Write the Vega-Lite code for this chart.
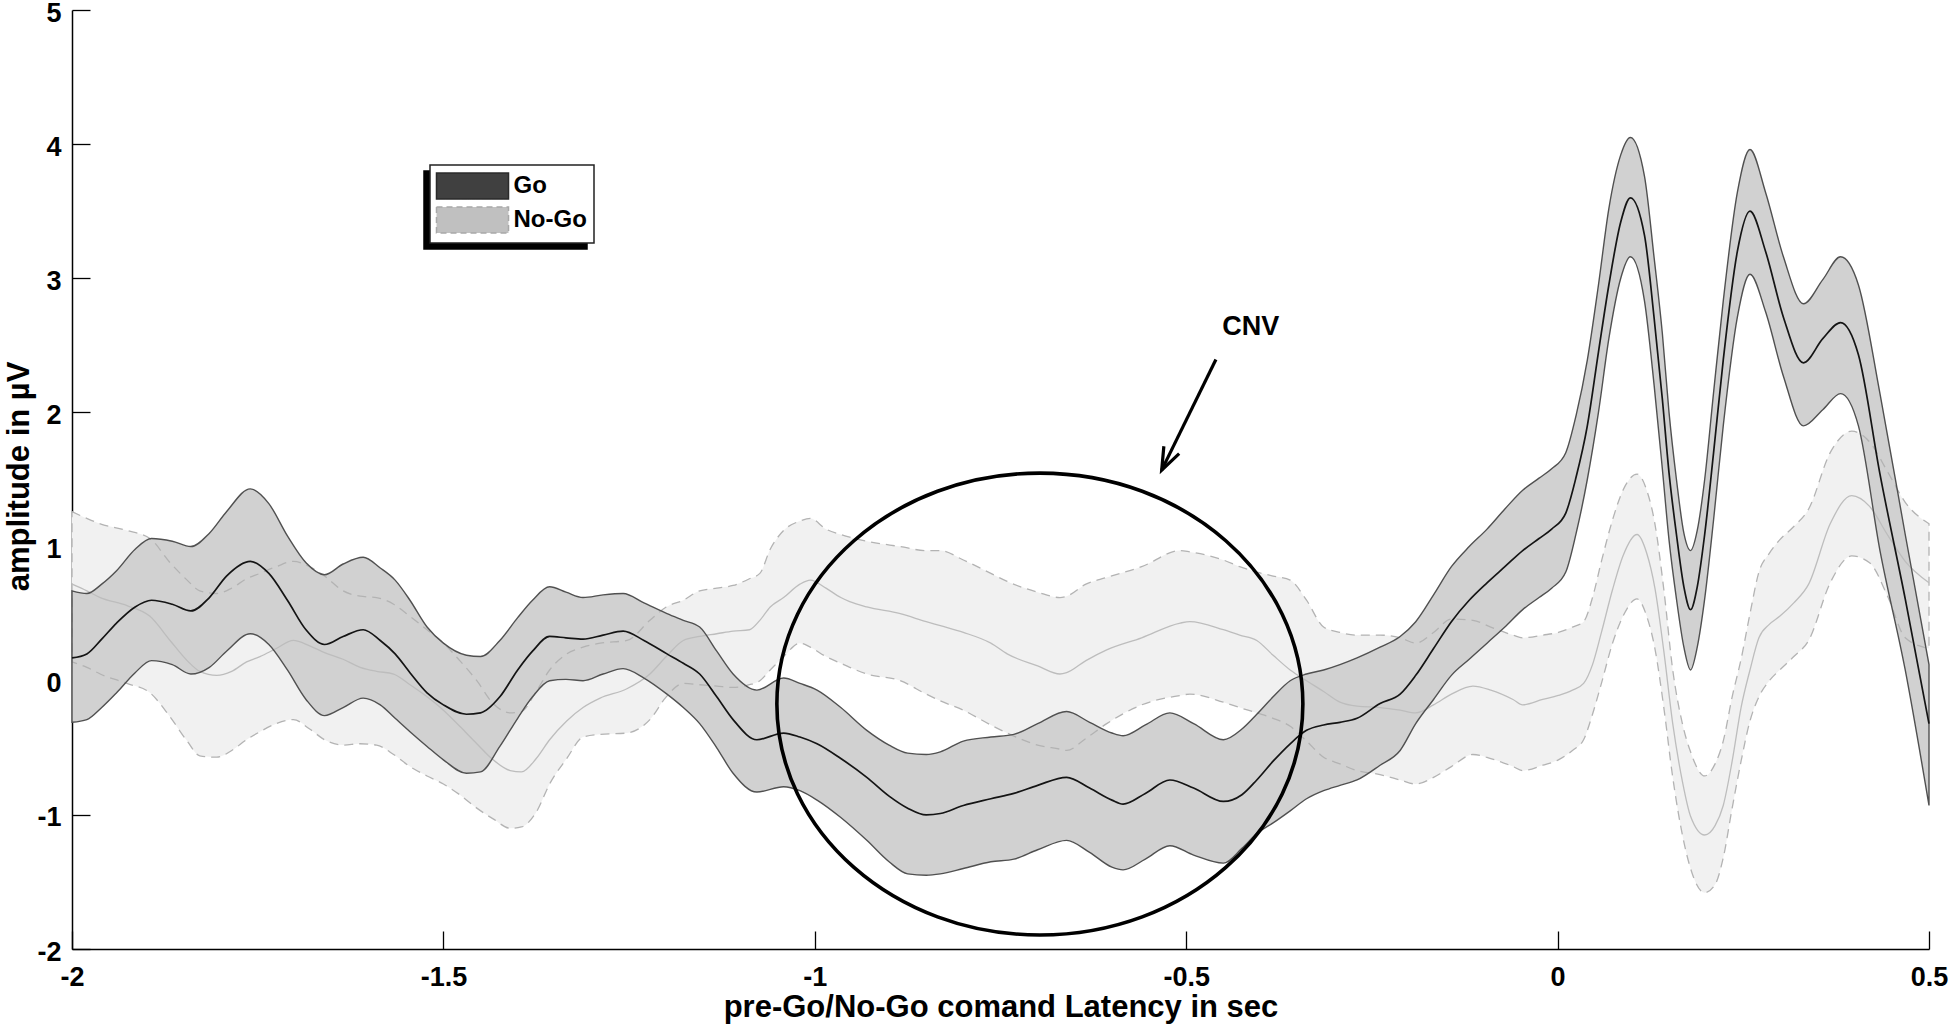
{
  "$schema": "https://vega.github.io/schema/vega-lite/v6.json",
  "width": 1857,
  "height": 939,
  "autosize": {"type": "none"},
  "padding": {"left": 72, "top": 10, "right": 21, "bottom": 81},
  "background": "white",
  "config": {
    "view": {"stroke": null},
    "font": "Liberation Sans",
    "legend": {"strokeWidth": 1.5}
  },
  "datasets": {
    "go": [
      {"t":-2.000,"lo":-0.31,"m":0.17,"hi":0.67},
      {"t":-1.980,"lo":-0.29,"m":0.20,"hi":0.65},
      {"t":-1.960,"lo":-0.20,"m":0.31,"hi":0.72},
      {"t":-1.940,"lo":-0.09,"m":0.43,"hi":0.82},
      {"t":-1.915,"lo":0.06,"m":0.55,"hi":0.98},
      {"t":-1.893,"lo":0.15,"m":0.60,"hi":1.06},
      {"t":-1.865,"lo":0.12,"m":0.57,"hi":1.04},
      {"t":-1.840,"lo":0.05,"m":0.52,"hi":1.00},
      {"t":-1.815,"lo":0.10,"m":0.62,"hi":1.10},
      {"t":-1.792,"lo":0.22,"m":0.78,"hi":1.26},
      {"t":-1.760,"lo":0.35,"m":0.89,"hi":1.43},
      {"t":-1.735,"lo":0.27,"m":0.80,"hi":1.32},
      {"t":-1.710,"lo":0.08,"m":0.60,"hi":1.08},
      {"t":-1.685,"lo":-0.14,"m":0.38,"hi":0.88},
      {"t":-1.660,"lo":-0.26,"m":0.27,"hi":0.79},
      {"t":-1.635,"lo":-0.20,"m":0.33,"hi":0.87},
      {"t":-1.608,"lo":-0.13,"m":0.38,"hi":0.92},
      {"t":-1.585,"lo":-0.18,"m":0.30,"hi":0.84},
      {"t":-1.565,"lo":-0.28,"m":0.20,"hi":0.75},
      {"t":-1.545,"lo":-0.38,"m":0.06,"hi":0.60},
      {"t":-1.522,"lo":-0.49,"m":-0.09,"hi":0.40},
      {"t":-1.500,"lo":-0.59,"m":-0.18,"hi":0.28},
      {"t":-1.469,"lo":-0.69,"m":-0.25,"hi":0.19},
      {"t":-1.450,"lo":-0.68,"m":-0.24,"hi":0.18},
      {"t":-1.424,"lo":-0.49,"m":-0.12,"hi":0.30},
      {"t":-1.400,"lo":-0.28,"m":0.08,"hi":0.47},
      {"t":-1.380,"lo":-0.12,"m":0.22,"hi":0.60},
      {"t":-1.357,"lo":0.00,"m":0.33,"hi":0.70},
      {"t":-1.335,"lo":0.01,"m":0.32,"hi":0.66},
      {"t":-1.312,"lo":0.00,"m":0.31,"hi":0.62},
      {"t":-1.285,"lo":0.05,"m":0.34,"hi":0.64},
      {"t":-1.258,"lo":0.09,"m":0.37,"hi":0.65},
      {"t":-1.230,"lo":0.02,"m":0.30,"hi":0.58},
      {"t":-1.199,"lo":-0.10,"m":0.20,"hi":0.50},
      {"t":-1.177,"lo":-0.20,"m":0.13,"hi":0.45},
      {"t":-1.155,"lo":-0.32,"m":0.05,"hi":0.40},
      {"t":-1.132,"lo":-0.50,"m":-0.12,"hi":0.22},
      {"t":-1.110,"lo":-0.69,"m":-0.29,"hi":0.05},
      {"t":-1.078,"lo":-0.83,"m":-0.44,"hi":-0.07},
      {"t":-1.042,"lo":-0.79,"m":-0.39,"hi":0.02},
      {"t":-1.020,"lo":-0.82,"m":-0.42,"hi":-0.02},
      {"t":-0.997,"lo":-0.89,"m":-0.47,"hi":-0.07},
      {"t":-0.965,"lo":-1.02,"m":-0.58,"hi":-0.20},
      {"t":-0.930,"lo":-1.19,"m":-0.72,"hi":-0.37},
      {"t":-0.900,"lo":-1.35,"m":-0.86,"hi":-0.48},
      {"t":-0.875,"lo":-1.44,"m":-0.95,"hi":-0.54},
      {"t":-0.850,"lo":-1.45,"m":-1.00,"hi":-0.55},
      {"t":-0.831,"lo":-1.44,"m":-0.99,"hi":-0.53},
      {"t":-0.800,"lo":-1.40,"m":-0.93,"hi":-0.45},
      {"t":-0.763,"lo":-1.35,"m":-0.88,"hi":-0.42},
      {"t":-0.732,"lo":-1.33,"m":-0.84,"hi":-0.40},
      {"t":-0.700,"lo":-1.26,"m":-0.78,"hi":-0.32},
      {"t":-0.661,"lo":-1.19,"m":-0.72,"hi":-0.23},
      {"t":-0.630,"lo":-1.28,"m":-0.80,"hi":-0.31},
      {"t":-0.600,"lo":-1.39,"m":-0.89,"hi":-0.39},
      {"t":-0.585,"lo":-1.41,"m":-0.92,"hi":-0.41},
      {"t":-0.555,"lo":-1.33,"m":-0.84,"hi":-0.33},
      {"t":-0.522,"lo":-1.23,"m":-0.74,"hi":-0.24},
      {"t":-0.490,"lo":-1.30,"m":-0.80,"hi":-0.32},
      {"t":-0.450,"lo":-1.36,"m":-0.90,"hi":-0.44},
      {"t":-0.425,"lo":-1.25,"m":-0.85,"hi":-0.36},
      {"t":-0.405,"lo":-1.14,"m":-0.74,"hi":-0.25},
      {"t":-0.383,"lo":-1.06,"m":-0.60,"hi":-0.12},
      {"t":-0.360,"lo":-0.97,"m":-0.47,"hi":0.00},
      {"t":-0.338,"lo":-0.88,"m":-0.37,"hi":0.05},
      {"t":-0.315,"lo":-0.82,"m":-0.33,"hi":0.08},
      {"t":-0.293,"lo":-0.78,"m":-0.31,"hi":0.12},
      {"t":-0.270,"lo":-0.74,"m":-0.28,"hi":0.17},
      {"t":-0.239,"lo":-0.63,"m":-0.17,"hi":0.25},
      {"t":-0.212,"lo":-0.52,"m":-0.10,"hi":0.33},
      {"t":-0.191,"lo":-0.32,"m":0.04,"hi":0.44},
      {"t":-0.167,"lo":-0.14,"m":0.24,"hi":0.64},
      {"t":-0.143,"lo":0.04,"m":0.44,"hi":0.85},
      {"t":-0.119,"lo":0.16,"m":0.60,"hi":1.00},
      {"t":-0.095,"lo":0.28,"m":0.73,"hi":1.13},
      {"t":-0.071,"lo":0.40,"m":0.85,"hi":1.28},
      {"t":-0.047,"lo":0.53,"m":0.97,"hi":1.42},
      {"t":-0.025,"lo":0.62,"m":1.06,"hi":1.51},
      {"t":-0.008,"lo":0.69,"m":1.13,"hi":1.58},
      {"t":0.011,"lo":0.81,"m":1.25,"hi":1.70},
      {"t":0.025,"lo":1.10,"m":1.52,"hi":1.98},
      {"t":0.040,"lo":1.50,"m":1.90,"hi":2.39},
      {"t":0.055,"lo":2.00,"m":2.45,"hi":2.95},
      {"t":0.069,"lo":2.55,"m":2.95,"hi":3.52},
      {"t":0.085,"lo":3.00,"m":3.42,"hi":3.92},
      {"t":0.098,"lo":3.16,"m":3.60,"hi":4.05},
      {"t":0.117,"lo":2.83,"m":3.32,"hi":3.76},
      {"t":0.130,"lo":2.20,"m":2.70,"hi":3.15},
      {"t":0.141,"lo":1.58,"m":2.10,"hi":2.59},
      {"t":0.150,"lo":1.05,"m":1.55,"hi":2.00},
      {"t":0.160,"lo":0.61,"m":1.09,"hi":1.50},
      {"t":0.170,"lo":0.25,"m":0.70,"hi":1.10},
      {"t":0.179,"lo":0.08,"m":0.53,"hi":0.97},
      {"t":0.188,"lo":0.25,"m":0.70,"hi":1.12},
      {"t":0.198,"lo":0.61,"m":1.09,"hi":1.50},
      {"t":0.210,"lo":1.20,"m":1.70,"hi":2.15},
      {"t":0.223,"lo":1.90,"m":2.39,"hi":2.83},
      {"t":0.242,"lo":2.71,"m":3.20,"hi":3.64},
      {"t":0.259,"lo":3.03,"m":3.50,"hi":3.96},
      {"t":0.280,"lo":2.75,"m":3.20,"hi":3.64},
      {"t":0.304,"lo":2.27,"m":2.71,"hi":3.16},
      {"t":0.331,"lo":1.90,"m":2.37,"hi":2.81},
      {"t":0.357,"lo":2.02,"m":2.55,"hi":2.99},
      {"t":0.381,"lo":2.14,"m":2.67,"hi":3.16},
      {"t":0.405,"lo":1.90,"m":2.43,"hi":2.95},
      {"t":0.434,"lo":0.97,"m":1.54,"hi":2.14},
      {"t":0.468,"lo":0.08,"m":0.61,"hi":1.09},
      {"t":0.500,"lo":-0.93,"m":-0.32,"hi":0.12}
    ],
    "nogo": [
      {"t":-2.000,"lo":0.14,"m":0.72,"hi":1.26},
      {"t":-1.980,"lo":0.10,"m":0.67,"hi":1.21},
      {"t":-1.962,"lo":0.05,"m":0.62,"hi":1.17},
      {"t":-1.926,"lo":-0.02,"m":0.56,"hi":1.12},
      {"t":-1.895,"lo":-0.09,"m":0.48,"hi":1.06},
      {"t":-1.868,"lo":-0.27,"m":0.30,"hi":0.88},
      {"t":-1.845,"lo":-0.45,"m":0.15,"hi":0.75},
      {"t":-1.828,"lo":-0.56,"m":0.07,"hi":0.67},
      {"t":-1.805,"lo":-0.57,"m":0.04,"hi":0.65},
      {"t":-1.785,"lo":-0.52,"m":0.07,"hi":0.69},
      {"t":-1.765,"lo":-0.44,"m":0.14,"hi":0.76},
      {"t":-1.747,"lo":-0.38,"m":0.18,"hi":0.80},
      {"t":-1.725,"lo":-0.32,"m":0.24,"hi":0.85},
      {"t":-1.702,"lo":-0.29,"m":0.30,"hi":0.89},
      {"t":-1.680,"lo":-0.36,"m":0.26,"hi":0.85},
      {"t":-1.660,"lo":-0.44,"m":0.21,"hi":0.78},
      {"t":-1.635,"lo":-0.48,"m":0.16,"hi":0.67},
      {"t":-1.612,"lo":-0.47,"m":0.10,"hi":0.63},
      {"t":-1.590,"lo":-0.48,"m":0.07,"hi":0.62},
      {"t":-1.567,"lo":-0.55,"m":0.05,"hi":0.57},
      {"t":-1.545,"lo":-0.64,"m":-0.03,"hi":0.48},
      {"t":-1.522,"lo":-0.71,"m":-0.12,"hi":0.38},
      {"t":-1.500,"lo":-0.77,"m":-0.22,"hi":0.28},
      {"t":-1.478,"lo":-0.85,"m":-0.34,"hi":0.15},
      {"t":-1.455,"lo":-0.95,"m":-0.47,"hi":0.00},
      {"t":-1.433,"lo":-1.03,"m":-0.59,"hi":-0.17},
      {"t":-1.410,"lo":-1.10,"m":-0.67,"hi":-0.24},
      {"t":-1.395,"lo":-1.09,"m":-0.68,"hi":-0.23},
      {"t":-1.375,"lo":-0.98,"m":-0.58,"hi":-0.08},
      {"t":-1.357,"lo":-0.77,"m":-0.44,"hi":0.08},
      {"t":-1.334,"lo":-0.58,"m":-0.30,"hi":0.20},
      {"t":-1.312,"lo":-0.42,"m":-0.20,"hi":0.25},
      {"t":-1.289,"lo":-0.40,"m":-0.13,"hi":0.28},
      {"t":-1.253,"lo":-0.39,"m":-0.06,"hi":0.30},
      {"t":-1.222,"lo":-0.29,"m":0.05,"hi":0.45},
      {"t":-1.200,"lo":-0.12,"m":0.18,"hi":0.55},
      {"t":-1.177,"lo":-0.02,"m":0.30,"hi":0.60},
      {"t":-1.155,"lo":-0.03,"m":0.33,"hi":0.67},
      {"t":-1.132,"lo":-0.04,"m":0.35,"hi":0.69},
      {"t":-1.110,"lo":-0.05,"m":0.37,"hi":0.71},
      {"t":-1.088,"lo":-0.03,"m":0.38,"hi":0.76},
      {"t":-1.074,"lo":0.00,"m":0.45,"hi":0.80},
      {"t":-1.060,"lo":0.08,"m":0.55,"hi":0.98},
      {"t":-1.042,"lo":0.18,"m":0.62,"hi":1.12},
      {"t":-1.020,"lo":0.28,"m":0.72,"hi":1.19},
      {"t":-1.006,"lo":0.25,"m":0.75,"hi":1.21},
      {"t":-0.985,"lo":0.18,"m":0.69,"hi":1.13},
      {"t":-0.965,"lo":0.13,"m":0.62,"hi":1.09},
      {"t":-0.953,"lo":0.10,"m":0.59,"hi":1.07},
      {"t":-0.930,"lo":0.05,"m":0.55,"hi":1.04},
      {"t":-0.885,"lo":0.00,"m":0.50,"hi":1.00},
      {"t":-0.850,"lo":-0.10,"m":0.44,"hi":0.97},
      {"t":-0.831,"lo":-0.15,"m":0.41,"hi":0.97},
      {"t":-0.800,"lo":-0.22,"m":0.36,"hi":0.90},
      {"t":-0.763,"lo":-0.33,"m":0.28,"hi":0.80},
      {"t":-0.741,"lo":-0.39,"m":0.20,"hi":0.74},
      {"t":-0.700,"lo":-0.48,"m":0.11,"hi":0.66},
      {"t":-0.670,"lo":-0.51,"m":0.05,"hi":0.62},
      {"t":-0.661,"lo":-0.52,"m":0.06,"hi":0.63},
      {"t":-0.635,"lo":-0.43,"m":0.15,"hi":0.72},
      {"t":-0.607,"lo":-0.32,"m":0.23,"hi":0.77},
      {"t":-0.560,"lo":-0.18,"m":0.32,"hi":0.85},
      {"t":-0.508,"lo":-0.11,"m":0.43,"hi":0.97},
      {"t":-0.495,"lo":-0.10,"m":0.44,"hi":0.96},
      {"t":-0.450,"lo":-0.16,"m":0.38,"hi":0.90},
      {"t":-0.428,"lo":-0.20,"m":0.34,"hi":0.85},
      {"t":-0.405,"lo":-0.24,"m":0.30,"hi":0.81},
      {"t":-0.383,"lo":-0.28,"m":0.19,"hi":0.78},
      {"t":-0.360,"lo":-0.34,"m":0.08,"hi":0.75},
      {"t":-0.338,"lo":-0.45,"m":0.00,"hi":0.60},
      {"t":-0.315,"lo":-0.57,"m":-0.08,"hi":0.40},
      {"t":-0.293,"lo":-0.62,"m":-0.16,"hi":0.36},
      {"t":-0.270,"lo":-0.67,"m":-0.19,"hi":0.34},
      {"t":-0.239,"lo":-0.70,"m":-0.20,"hi":0.34},
      {"t":-0.212,"lo":-0.74,"m":-0.22,"hi":0.32},
      {"t":-0.191,"lo":-0.77,"m":-0.24,"hi":0.28},
      {"t":-0.167,"lo":-0.72,"m":-0.18,"hi":0.36},
      {"t":-0.143,"lo":-0.64,"m":-0.10,"hi":0.46},
      {"t":-0.114,"lo":-0.55,"m":-0.04,"hi":0.45},
      {"t":-0.090,"lo":-0.58,"m":-0.07,"hi":0.40},
      {"t":-0.060,"lo":-0.64,"m":-0.14,"hi":0.34},
      {"t":-0.047,"lo":-0.67,"m":-0.18,"hi":0.32},
      {"t":-0.020,"lo":-0.63,"m":-0.14,"hi":0.34},
      {"t":0.001,"lo":-0.59,"m":-0.11,"hi":0.36},
      {"t":0.020,"lo":-0.52,"m":-0.07,"hi":0.40},
      {"t":0.035,"lo":-0.44,"m":-0.02,"hi":0.44},
      {"t":0.047,"lo":-0.25,"m":0.12,"hi":0.62},
      {"t":0.059,"lo":-0.02,"m":0.36,"hi":0.89},
      {"t":0.074,"lo":0.28,"m":0.68,"hi":1.20},
      {"t":0.088,"lo":0.48,"m":0.93,"hi":1.42},
      {"t":0.107,"lo":0.61,"m":1.09,"hi":1.54},
      {"t":0.120,"lo":0.48,"m":0.95,"hi":1.42},
      {"t":0.131,"lo":0.24,"m":0.69,"hi":1.17},
      {"t":0.143,"lo":-0.20,"m":0.22,"hi":0.68},
      {"t":0.155,"lo":-0.72,"m":-0.32,"hi":0.08},
      {"t":0.168,"lo":-1.15,"m":-0.75,"hi":-0.32},
      {"t":0.179,"lo":-1.40,"m":-1.01,"hi":-0.53},
      {"t":0.198,"lo":-1.58,"m":-1.15,"hi":-0.71},
      {"t":0.212,"lo":-1.52,"m":-1.08,"hi":-0.62},
      {"t":0.223,"lo":-1.32,"m":-0.93,"hi":-0.45},
      {"t":0.235,"lo":-0.95,"m":-0.60,"hi":-0.12},
      {"t":0.247,"lo":-0.60,"m":-0.20,"hi":0.16},
      {"t":0.259,"lo":-0.30,"m":0.08,"hi":0.50},
      {"t":0.271,"lo":-0.12,"m":0.32,"hi":0.81},
      {"t":0.285,"lo":0.00,"m":0.42,"hi":0.95},
      {"t":0.299,"lo":0.08,"m":0.48,"hi":1.05},
      {"t":0.318,"lo":0.18,"m":0.58,"hi":1.15},
      {"t":0.338,"lo":0.30,"m":0.72,"hi":1.28},
      {"t":0.367,"lo":0.73,"m":1.17,"hi":1.70},
      {"t":0.396,"lo":0.93,"m":1.38,"hi":1.86},
      {"t":0.420,"lo":0.88,"m":1.30,"hi":1.78},
      {"t":0.445,"lo":0.62,"m":1.08,"hi":1.55},
      {"t":0.468,"lo":0.32,"m":0.89,"hi":1.33},
      {"t":0.500,"lo":0.24,"m":0.73,"hi":1.17}
    ],
    "conds": [{"cond": "Go"}, {"cond": "No-Go"}],
    "shadow": [{"box": "Go"}, {"box": "No-Go"}],
    "cnv": [{"t": -0.697, "v": -0.174}],
    "arrow": [{"t": -0.460, "v": 2.395, "t2": -0.533, "v2": 1.57}],
    "label": [{"t": -0.413, "v": 2.634, "text": "CNV"}]
  },
  "layer": [
    {
      "data": {"name": "nogo"},
      "mark": {"type": "area", "interpolate": "monotone", "fill": "#f1f1f1", "strokeWidth": 0},
      "encoding": {
        "x": {
          "field": "t", "type": "quantitative",
          "title": "pre-Go/No-Go comand Latency in sec",
          "scale": {"domain": [-2, 0.5], "nice": false, "zero": false},
          "axis": {
            "title": "pre-Go/No-Go comand Latency in sec",
            "values": [-2, -1.5, -1, -0.5, 0, 0.5],
            "labelExpr": "'' + datum.value",
            "grid": false,
            "tickSize": -18, "tickColor": "#000", "tickWidth": 1.3,
            "domainColor": "#000", "domainWidth": 1.5,
            "labelFont": "Liberation Sans", "labelFontWeight": "bold", "labelFontSize": 27, "labelColor": "#000",
            "labelPadding": 33, "labelFlush": false, "labelOverlap": false,
            "titleFont": "Liberation Sans", "titleFontWeight": "bold", "titleFontSize": 31, "titleColor": "#000",
            "titleY": 67, "titleBaseline": "alphabetic"
          }
        },
        "y": {
          "field": "hi", "type": "quantitative",
          "title": "amplitude in µV",
          "scale": {"domain": [-2, 5], "nice": false, "zero": false},
          "axis": {
            "title": "amplitude in µV",
            "values": [-2, -1, 0, 1, 2, 3, 4, 5],
            "labelExpr": "'' + datum.value",
            "grid": false,
            "tickSize": -18, "tickColor": "#000", "tickWidth": 1.3,
            "domainColor": "#000", "domainWidth": 1.5,
            "labelFont": "Liberation Sans", "labelFontWeight": "bold", "labelFontSize": 27, "labelColor": "#000",
            "labelPadding": 29, "labelOffset": 3, "labelOverlap": false, "labelFlush": false,
            "titleFont": "Liberation Sans", "titleFontWeight": "bold", "titleFontSize": 31, "titleColor": "#000",
            "titleX": -44, "titleY": 466, "titleBaseline": "alphabetic", "titleAngle": -90
          }
        },
        "y2": {"field": "lo"}
      }
    },
    {
      "data": {"name": "go"},
      "mark": {"type": "area", "interpolate": "monotone", "fill": "#d1d1d1", "strokeWidth": 0},
      "encoding": {
        "x": {"field": "t", "type": "quantitative", "title": "pre-Go/No-Go comand Latency in sec"},
        "y": {"field": "hi", "type": "quantitative", "title": "amplitude in µV"},
        "y2": {"field": "lo"}
      }
    },
    {
      "data": {"name": "nogo"},
      "mark": {"type": "area", "interpolate": "monotone", "fillOpacity": 0, "fill": "white", "stroke": "#b3b3b3", "strokeWidth": 1.3, "strokeDash": [9, 6]},
      "encoding": {
        "x": {"field": "t", "type": "quantitative", "title": "pre-Go/No-Go comand Latency in sec"},
        "y": {"field": "hi", "type": "quantitative", "title": "amplitude in µV"},
        "y2": {"field": "lo"}
      }
    },
    {
      "data": {"name": "nogo"},
      "mark": {"type": "line", "interpolate": "monotone", "color": "#bdbdbd", "strokeWidth": 1.3},
      "encoding": {
        "x": {"field": "t", "type": "quantitative", "title": "pre-Go/No-Go comand Latency in sec"},
        "y": {"field": "m", "type": "quantitative", "title": "amplitude in µV"}
      }
    },
    {
      "data": {"name": "go"},
      "mark": {"type": "area", "interpolate": "monotone", "fillOpacity": 0, "fill": "white", "stroke": "#505050", "strokeWidth": 1.4},
      "encoding": {
        "x": {"field": "t", "type": "quantitative", "title": "pre-Go/No-Go comand Latency in sec"},
        "y": {"field": "hi", "type": "quantitative", "title": "amplitude in µV"},
        "y2": {"field": "lo"}
      }
    },
    {
      "data": {"name": "go"},
      "mark": {"type": "line", "interpolate": "monotone", "color": "#141414", "strokeWidth": 1.7},
      "encoding": {
        "x": {"field": "t", "type": "quantitative", "title": "pre-Go/No-Go comand Latency in sec"},
        "y": {"field": "m", "type": "quantitative", "title": "amplitude in µV"}
      }
    },
    {
      "data": {"name": "shadow"},
      "mark": {"type": "point", "filled": true, "opacity": 0},
      "encoding": {
        "shape": {
          "field": "box", "type": "nominal",
          "scale": {"range": ["M-2.77,-1H2.77V1H-2.77Z", "M-2.77,-1H2.77V1H-2.77Z"]},
          "legend": {
            "orient": "none", "legendX": 352, "legendY": 161,
            "title": null,
            "zindex": 0,
            "symbolSize": 676,
            "symbolOpacity": 0,
            "symbolStrokeWidth": 1.5,
            "symbolOffset": 21.5,
            "labelExpr": "''",
            "labelFont": "Liberation Sans", "labelFontWeight": "bold", "labelFontSize": 24, "labelColor": "#000",
            "labelOffset": 99,
            "rowPadding": 10,
            "padding": 7,
            "strokeColor": "#000",
            "fillColor": "#000"
          }
        }
      }
    },
    {
      "data": {"name": "conds"},
      "mark": {"type": "point", "filled": true, "opacity": 0},
      "encoding": {
        "color": {
          "field": "cond", "type": "nominal",
          "scale": {"domain": ["Go", "No-Go"], "range": ["#404040", "#c0c0c0"]},
          "legend": {
            "orient": "none", "legendX": 358, "legendY": 155,
            "title": null,
            "zindex": 1,
            "symbolType": "M-2.77,-1H2.77V1H-2.77Z",
            "symbolSize": 676,
            "symbolOpacity": 1,
            "symbolStrokeWidth": 1.5,
            "symbolOffset": 21.5,
            "labelFont": "Liberation Sans", "labelFontWeight": "bold", "labelFontSize": 24, "labelColor": "#000",
            "labelOffset": 27,
            "rowPadding": 2,
            "padding": 7,
            "strokeColor": "#222",
            "fillColor": "white",
            "encode": {
              "symbols": {
                "update": {
                  "stroke": {"signal": "datum.value === 'Go' ? '#2a2a2a' : '#a8a8a8'"},
                  "strokeDash": {"signal": "datum.value === 'Go' ? [1, 0] : [6, 4]"},
                  "opacity": {"value": 1}
                }
              }
            }
          }
        }
      }
    },
    {
      "data": {"name": "arrow"},
      "mark": {"type": "rule", "color": "#000", "strokeWidth": 3.2},
      "encoding": {
        "x": {"field": "t", "type": "quantitative", "title": "pre-Go/No-Go comand Latency in sec"},
        "y": {"field": "v", "type": "quantitative", "title": "amplitude in µV"},
        "x2": {"field": "t2"},
        "y2": {"field": "v2"}
      }
    },
    {
      "data": {"name": "arrow"},
      "mark": {"type": "point", "shape": "M-0.38,-1L0,0L0.38,-1", "size": 2007, "angle": 26, "filled": false, "stroke": "#000", "strokeWidth": 3.2, "opacity": 1},
      "encoding": {
        "x": {"field": "t2", "type": "quantitative", "title": "pre-Go/No-Go comand Latency in sec"},
        "y": {"field": "v2", "type": "quantitative", "title": "amplitude in µV"}
      }
    },
    {
      "data": {"name": "label"},
      "mark": {"type": "text", "font": "Liberation Sans", "fontWeight": "bold", "fontSize": 27, "color": "#000", "align": "center", "baseline": "middle"},
      "encoding": {
        "x": {"field": "t", "type": "quantitative", "title": "pre-Go/No-Go comand Latency in sec"},
        "y": {"field": "v", "type": "quantitative", "title": "amplitude in µV"},
        "text": {"field": "text"}
      }
    },
    {
      "data": {"name": "cnv"},
      "mark": {"type": "point", "shape": "M-1,0C-1,-0.485,-0.552,-0.878,0,-0.878C0.552,-0.878,1,-0.485,1,0C1,0.485,0.552,0.878,0,0.878C-0.552,0.878,-1,0.485,-1,0Z", "size": 276676, "filled": false, "stroke": "#000", "strokeWidth": 3.6, "opacity": 1},
      "encoding": {
        "x": {"field": "t", "type": "quantitative", "title": "pre-Go/No-Go comand Latency in sec"},
        "y": {"field": "v", "type": "quantitative", "title": "amplitude in µV"}
      }
    }
  ]
}
